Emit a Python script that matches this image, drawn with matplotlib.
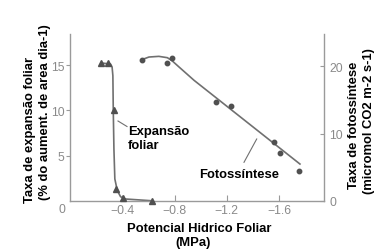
import matplotlib
matplotlib.use("Agg")
import matplotlib.pyplot as plt
from matplotlib.lines import Line2D

plt.rcParams['font.family'] = ['Liberation Sans', 'DejaVu Sans']

# Leaf expansion (triangles), left axis
exp_x = [-0.24, -0.29, -0.335, -0.355, -0.405, -0.625]
exp_y = [15.2, 15.2, 10.0, 1.3, 0.3, 0.05]
# fitted curve for expansion
exp_curve_x = [-0.241, -0.310, -0.322, -0.328, -0.331, -0.336, -0.343, -0.362, -0.387, -0.425, -0.622]
exp_curve_y = [15.22, 15.11, 14.78, 13.82, 10.04, 5.74, 2.43, 1.14, 0.47, 0.22, 0.03]

# Photosynthesis (dots), right axis
pho_x = [-0.548, -0.739, -0.780, -1.120, -1.230, -1.562, -1.609, -1.755]
pho_y = [20.98, 20.45, 21.28, 14.65, 14.06, 8.82, 7.10, 4.42]
pho_curve_x = [-0.548, -0.604, -0.680, -0.745, -0.783, -0.834, -0.949, -1.759]
pho_curve_y = [20.98, 21.38, 21.48, 21.28, 20.79, 19.90, 17.92, 5.49]

x_ticks = [-0.4, -0.8, -1.2, -1.6]
left_ticks = [5, 10, 15]
right_ticks = [0, 10, 20]

W, H = 384, 253
fig = plt.figure(figsize=(W / 100, H / 100), dpi=100)
ax = fig.add_axes([70 / W, 1 - 202 / H, (324 - 70) / W, (202 - 35) / H])
ax2 = ax.twinx()

spine_c = '#9a9a9a'
tick_c = '#8a8a8a'
line_c = '#707070'
mark_c = '#505050'

ax.plot(exp_curve_x, exp_curve_y, color=line_c, lw=1.2, zorder=2)
ax.plot(exp_x, exp_y, linestyle='none', marker='^', ms=5, color=mark_c, zorder=3, clip_on=False)
ax2.plot(pho_curve_x, pho_curve_y, color=line_c, lw=1.2, zorder=2)
ax2.plot(pho_x, pho_y, linestyle='none', marker='o', ms=3.2, color=mark_c, zorder=3, clip_on=False)

ax.set_xlim(0, -1.943)
ax.set_ylim(0, 18.42)
ax2.set_ylim(0, 24.8)

ax.set_xticks(x_ticks)
ax.set_xticklabels(['\u2212%.1f' % abs(v) for v in x_ticks])
ax.set_yticks(left_ticks)
ax2.set_yticks(right_ticks)

for a in (ax, ax2):
    a.spines['top'].set_visible(False)
    for s in a.spines.values():
        s.set_color(spine_c)
        s.set_linewidth(1.0)
ax.spines['right'].set_visible(False)
ax2.spines['left'].set_visible(False)
ax2.spines['bottom'].set_visible(False)

ax.tick_params(axis='x', direction='in', length=4, width=0.8, color=spine_c,
               labelcolor=tick_c, labelsize=8.8, pad=2)
ax.tick_params(axis='y', direction='out', length=3, width=0.8, color=spine_c,
               labelcolor=tick_c, labelsize=8.8, pad=1)
ax2.tick_params(axis='y', direction='in', length=3, width=0.8, color=spine_c,
                labelcolor=tick_c, labelsize=8.8, pad=4)

def fx(px):
    return px / W

def fy(py):
    return 1 - py / H

# origin "0"
fig.text(fx(62), fy(210), '0', color=tick_c, fontsize=8.8, ha='center', va='center')

bold = dict(fontweight='bold', color='black', fontsize=9.4)
fig.text(fx(128), fy(134.5), 'Expansão', ha='left', va='baseline', **bold)
fig.text(fx(128), fy(149.3), 'foliar', ha='left', va='baseline', **bold)
fig.text(fx(199), fy(178), 'Fotossíntese', ha='left', va='baseline', **bold)
fig.text(fx(199), fy(232), 'Potencial Hidrico Foliar', ha='center', va='baseline', **bold)
fig.text(fx(193), fy(246.5), '(MPa)', ha='center', va='baseline', **bold)

fig.text(fx(30.5), fy(203), 'Taxa de expansão foliar', rotation=90, ha='center', va='bottom', **bold)
fig.text(fx(45), fy(200), '(% do aument. de area dia-1)', rotation=90, ha='center', va='bottom', **bold)
fig.text(fx(354), fy(125), 'Taxa de fotossíntese', rotation=90, ha='center', va='center', **bold)
fig.text(fx(369), fy(121.5), '(micromol CO2 m-2 s-1)', rotation=90, ha='center', va='center', **bold)

# leader lines
fig.add_artist(Line2D([fx(118), fx(127)], [fy(122), fy(127.5)], color=line_c, lw=0.8))
fig.add_artist(Line2D([fx(244), fx(256.7)], [fy(163.3), fy(140)], color=line_c, lw=0.8))

fig.savefig('out.png', dpi=100)
